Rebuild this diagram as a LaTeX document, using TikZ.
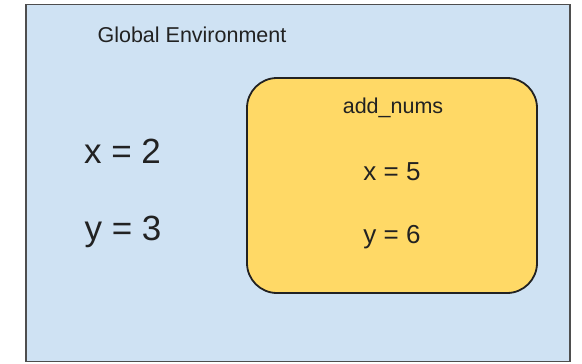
\documentclass[tikz,border=0pt]{standalone}
\usepackage{fontspec}
\setmainfont{Liberation Sans}
\definecolor{envblue}{HTML}{CFE2F3}
\definecolor{frameorange}{HTML}{FFD966}
\definecolor{inkgray}{HTML}{222222}
\begin{document}
\begin{tikzpicture}[x=1pt,y=-1pt,line width=1pt,
  envbox/.style={draw=inkgray!80,fill=envblue,line width=1.5pt,minimum width=544pt,minimum height=357pt,inner sep=0pt},
  framebox/.style={draw=inkgray,fill=frameorange,line width=1.8pt,rounded corners=30pt,minimum width=290pt,minimum height=215pt,inner sep=0pt},
  lbl/.style={text=inkgray,anchor=base,inner sep=0pt,font=\fontsize{#1}{#1}\selectfont}]
  \useasboundingbox (0,0) rectangle (582,364);
  \node[envbox] (global) at (298,183) {};
  \node[framebox] (addnums) at (392,185.5) {};
  \node[lbl=21.5] (globaltitle) at (192,42) {Global Environment};
  \node[lbl=21.5] (addtitle) at (393,113) {add\_nums};
  \foreach \n/\t/\px/\py/\s in {gx/x = 2/122.5/163/35, gy/y = 3/123/240/35, lx/x = 5/392/180/26, ly/y = 6/392/243/26}{
    \node[lbl=\s] (\n) at (\px,\py) {\t};}
\end{tikzpicture}
\end{document}
